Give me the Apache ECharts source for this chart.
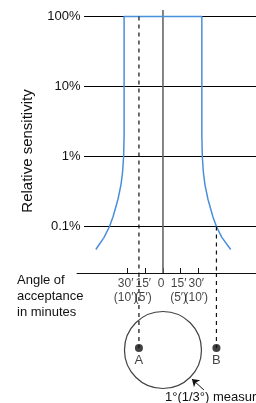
<!DOCTYPE html>
<html>
<head>
<meta charset="utf-8">
<script src="https://cdn.jsdelivr.net/npm/echarts@6/dist/echarts.min.js"></script>
<style>
  html, body { margin: 0; padding: 0; background: #fff; }
  #chart { width: 256px; height: 403px; }
</style>
</head>
<body>
<div id="chart"></div>
<script>
// horizontal reference levels, relative sensitivity in %
const levels = [100, 10, 1, 0.1];
// angle of acceptance ticks (minutes)
const tickMinutes = [-30, -15, 0, 15, 30];
const tickTop = ['30′', '15′', '0', '15′', '30′'];
const tickBottom = ['(10′)', '(5′)', '', '(5′)', '(10′)'];
// sensitivity curve: angle (minutes) vs relative sensitivity (%)
const curveAngle = [-57, -50, -45.4, -42.4, -38.2, -35.6, -34.3, -33.4, -33, -33, 33, 33, 33.4, 34.3, 35.6, 38.2, 42.4, 45.4, 50, 57.5];
const curvePct = [0.047, 0.07, 0.1, 0.138, 0.245, 0.4, 0.6, 1, 2, 100, 100, 2, 1, 0.6, 0.4, 0.245, 0.138, 0.1, 0.07, 0.047];
// measuring points A and B (minutes) and where their dashed lines start (%)
const pointNames = ['A', 'B'];
const pointAngle = [-20.4, 45.4];
const pointStartPct = [100, 0.1];

const chart = echarts.init(document.getElementById('chart'));

const FONT = '"Liberation Sans", Arial, sans-serif';
const X_MIN = -73, X_MAX = 79;
// log10 of %, 70px per decade, levels land on half pixels so the lines stay crisp
const Y_MAX = 2 + 6.5 / 70;
const Y_MIN = Y_MAX - 263 / 70;
const LINE_START = -67;               // where the level lines begin
// lower panel, pixels below the axis
const ROW1_Y = 11, ROW2_Y = 25, DOT_Y = 75, CIRCLE_Y = 77;

const lg = Math.log10;

// level lines with their labels on the left
const levelSeries = levels.map(p => ({
    type: 'line', xAxisIndex: 0, yAxisIndex: 0,
    data: [[LINE_START, lg(p)], [X_MAX, lg(p)]],
    symbol: 'circle', symbolSize: 1, showSymbol: true, silent: true,
    itemStyle: { color: 'rgba(0,0,0,0)' },
    lineStyle: { color: '#000', width: 1 },
    label: {
        show: true, position: 'left', distance: 3,
        formatter: params => params.dataIndex === 0 ? p + '%' : '',
        fontFamily: FONT, fontSize: 13, color: '#111'
    }
}));

// tick labels, two rows under the axis
const tickRow = (y, texts) => ({
    type: 'scatter', xAxisIndex: 1, yAxisIndex: 1, silent: true,
    data: tickMinutes.map(m => [m, y]), symbolSize: 1,
    itemStyle: { color: 'rgba(0,0,0,0)' },
    label: {
        show: true, position: 'inside', offset: [-2, 0],
        formatter: p => texts[p.dataIndex],
        fontFamily: FONT, fontSize: 12, color: '#111'
    }
});

const dashStyle = { color: '#111', width: 1.2, type: [4, 4] };

const options = {
    animation: false,
    grid: [
        { left: 77, right: 0, top: 10, height: 263 },
        { left: 77, right: 0, top: 273, height: 130 }
    ],
    xAxis: [
        {
            gridIndex: 0, type: 'value', min: X_MIN, max: X_MAX,
            axisLine: { show: true, onZero: false, lineStyle: { color: '#111', width: 1 } },
            axisTick: { show: true, inside: true, length: 5, customValues: tickMinutes, lineStyle: { color: '#111' } },
            axisLabel: { show: false },
            splitLine: { show: false }
        },
        { gridIndex: 1, type: 'value', min: X_MIN, max: X_MAX, show: false }
    ],
    yAxis: [
        { gridIndex: 0, type: 'value', min: Y_MIN, max: Y_MAX, show: false },
        { gridIndex: 1, type: 'value', min: 0, max: 130, inverse: true, show: false }
    ],
    series: [
        ...levelSeries,
        // center line (0 minutes)
        {
            type: 'line', xAxisIndex: 0, yAxisIndex: 0, symbol: 'none', silent: true,
            data: [[0, Y_MAX], [0, Y_MIN]],
            lineStyle: { color: '#666', width: 1.6 }
        },
        // sensitivity curve
        {
            type: 'line', xAxisIndex: 0, yAxisIndex: 0, symbol: 'none', silent: true,
            data: curveAngle.map((a, i) => [a, lg(curvePct[i])]),
            lineStyle: { color: '#4a8fdb', width: 1.5 }
        },
        // dashed lines from curve to measuring points
        ...pointAngle.map((a, i) => ({
            type: 'line', xAxisIndex: 0, yAxisIndex: 0, symbol: 'none', silent: true,
            data: [[a, lg(pointStartPct[i])], [a, Y_MIN]],
            lineStyle: dashStyle
        })),
        ...pointAngle.map(a => ({
            type: 'line', xAxisIndex: 1, yAxisIndex: 1, symbol: 'none', silent: true,
            data: [[a, 0], [a, DOT_Y]],
            lineStyle: dashStyle
        })),
        tickRow(ROW1_Y, tickTop),
        tickRow(ROW2_Y, tickBottom),
        // measuring field circle
        {
            type: 'scatter', xAxisIndex: 1, yAxisIndex: 1, silent: true,
            data: [[0, CIRCLE_Y]], symbol: 'circle', symbolSize: 77,
            itemStyle: { color: 'rgba(0,0,0,0)', borderColor: '#111', borderWidth: 1.2 },
            markLine: {
                silent: true, symbol: ['none', 'arrow'], symbolSize: 7,
                lineStyle: { color: '#111', type: 'solid', width: 1 },
                label: { show: false },
                data: [[{ coord: [34.8, 117] }, { coord: [24.6, 106] }]]
            }
        },
        // points A and B
        {
            type: 'scatter', xAxisIndex: 1, yAxisIndex: 1, silent: true,
            data: pointAngle.map(a => [a, DOT_Y]), symbolSize: 8,
            itemStyle: { color: '#111' },
            label: {
                show: true, position: 'bottom', distance: 2,
                formatter: p => pointNames[p.dataIndex],
                fontFamily: FONT, fontSize: 13, color: '#111'
            }
        }
    ],
    graphic: [
        {
            type: 'text', x: 28, y: 151, rotation: Math.PI / 2,
            style: { text: 'Relative sensitivity', align: 'center', verticalAlign: 'middle',
                     fontFamily: FONT, fontSize: 15, fill: '#111' }
        },
        {
            type: 'text', x: 17, y: 272,
            style: { text: 'Angle of\nacceptance\nin minutes', align: 'left', verticalAlign: 'top',
                     lineHeight: 16, fontFamily: FONT, fontSize: 13, fill: '#111' }
        },
        {
            type: 'text', x: 165, y: 397,
            style: { text: '1°(1/3°) measuring field', align: 'left', verticalAlign: 'middle',
                     fontFamily: FONT, fontSize: 13, fill: '#111' }
        }
    ]
};

chart.setOption(options);
</script>
</body>
</html>
